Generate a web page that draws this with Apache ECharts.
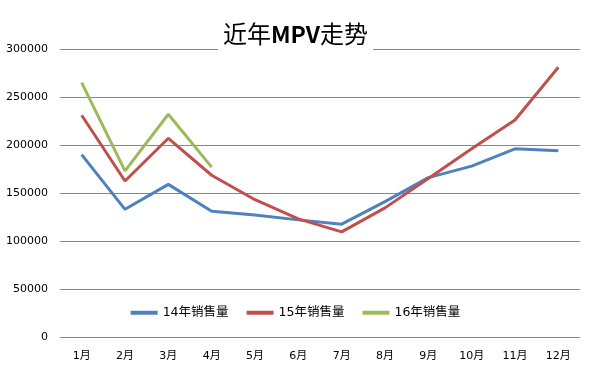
<!DOCTYPE html>
<html><head><meta charset="utf-8">
<script src="https://cdn.jsdelivr.net/npm/echarts@6/dist/echarts.min.js"></script>
<style>html,body{margin:0;padding:0;background:#fff}#c{width:591px;height:370px}</style>
</head><body><div id="c"></div>
<script>
const months = ['1月','2月','3月','4月','5月','6月','7月','8月','9月','10月','11月','12月'];
const s14 = [190000,133000,159000,131000,127000,122000,117500,141000,166000,178000,196000,194000];
const s15 = [231000,162500,207000,168500,143000,123000,109500,134500,165000,196000,226000,281000];
const s16 = [265000,173000,232000,177000];
const yTicks = [0,50000,100000,150000,200000,250000,300000];
const names = ['14年销售量','15年销售量','16年销售量'];
const colors = ['#4F81BD','#C0504D','#9BBB59'];
const font = '"DejaVu Sans","Noto Sans CJK SC",sans-serif';
const cjk = '"Noto Sans CJK SC",sans-serif';
const chart = echarts.init(document.getElementById('c'));
const mk = (name, data, color) => ({
  name, type:'line', data, symbol:'none', smooth:false,
  lineStyle:{color, width:3}, itemStyle:{color}
});
chart.setOption({
  animation:false,
  title:{text:'{n|近年}{b|MPV}{n|走势}', left:'center', top:20, padding:[2,5,6,5],
    backgroundColor:'#fff', z:10,
    textStyle:{rich:{
      n:{fontSize:24, fontWeight:'normal', color:'#000', fontFamily:cjk},
      b:{fontSize:23, fontWeight:'bold', color:'#000', fontFamily:cjk}
    }}},
  legend:{data:names, bottom:46, left:'center', itemWidth:27, itemHeight:4, itemGap:18, icon:'rect',
    textStyle:{fontSize:12.5, color:'#000', fontFamily:font}},
  grid:{left:60, right:11, top:49, bottom:33},
  xAxis:{type:'category', data:months, boundaryGap:true,
    axisLine:{show:false}, axisTick:{show:false},
    axisLabel:{fontSize:11, color:'#000', margin:14, fontFamily:font}},
  yAxis:{type:'value', min:0, max:300000, interval:50000,
    axisLine:{show:false}, axisTick:{show:false},
    splitLine:{lineStyle:{color:'#868686', width:1}},
    axisLabel:{fontSize:11, color:'#000', margin:12, fontFamily:font,
      formatter: v => yTicks.includes(v) ? String(v) : ''}},
  series:[mk(names[0], s14, colors[0]), mk(names[1], s15, colors[1]), mk(names[2], s16, colors[2])]
});
</script></body></html>
